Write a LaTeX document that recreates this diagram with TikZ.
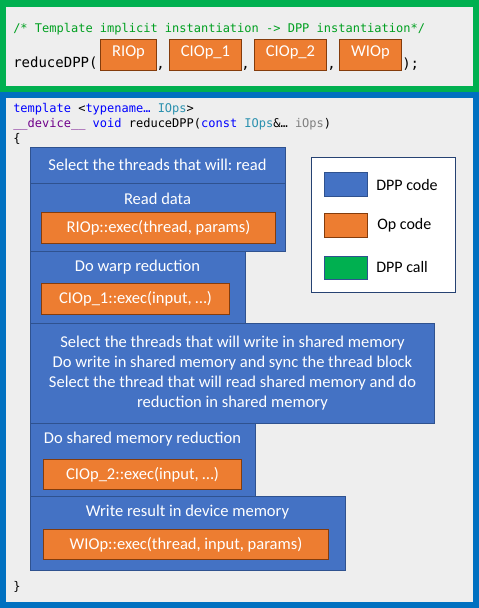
\documentclass[tikz,border=0pt]{standalone}
\usepackage{fontspec}
\setmainfont{Carlito}
\newfontfamily\codefont{DejaVu Sans Mono}
\frenchspacing
\definecolor{frgreen}{HTML}{00B050}
\definecolor{frblue}{HTML}{0070C0}
\definecolor{bggray}{HTML}{EEEEEE}
\definecolor{dppblue}{HTML}{4472C4}
\definecolor{dppedge}{HTML}{2F528F}
\definecolor{opfill}{HTML}{ED7D31}
\definecolor{opedge}{HTML}{843C0C}
\definecolor{cmtgreen}{HTML}{00A020}
\definecolor{kwblue}{HTML}{0000FF}
\definecolor{tyteal}{HTML}{2B91AF}
\definecolor{macpurple}{HTML}{6F008A}
\definecolor{pargray}{HTML}{808080}
\tikzset{
  code/.style={font=\codefont\fontsize{9}{11}\selectfont, inner sep=0pt, anchor=base west, text=black},
  bigcode/.style={font=\codefont\fontsize{10.5}{12}\selectfont, inner sep=0pt, anchor=base west, text=black},
  dppblk/.style={draw=dppedge, fill=dppblue, line width=0.75pt, anchor=north west, inner sep=0pt},
  opbox/.style={draw=opedge, fill=opfill, line width=0.75pt, anchor=north west, inner sep=0pt},
  wtxt/.style={text=white, font=\fontsize{12.4}{15}\selectfont\frenchspacing, inner sep=0pt},
  legtxt/.style={text=black, font=\fontsize{12}{13}\selectfont, inner sep=0pt, anchor=west},
}
\begin{document}
\begin{tikzpicture}[x=0.75pt,y=-0.75pt]
\useasboundingbox (0,0) rectangle (479,608);
% frames
\fill[frgreen] (0,0) rectangle (479,92);
\fill[bggray] (6,7) rectangle (473,86);
\fill[frblue] (0,92) rectangle (479,608);
\fill[bggray] (6,98) rectangle (473,602);
% top call
\node[code] (cmt) at (13,32) {\color{cmtgreen}/*~Template~implicit~instantiation~->~DPP~instantiation*/};
\node[bigcode] (call) at (13,67) {reduceDPP(};
\node[opbox, minimum width=56*0.75pt, minimum height=31*0.75pt] (c1) at (100,39) {};
\node[wtxt] at ([yshift=2.5*0.75pt]c1.center) {RIOp};
\node[bigcode] (cm1) at (156,68) {,};
\node[opbox, minimum width=72*0.75pt, minimum height=31*0.75pt] (c2) at (169,39) {};
\node[wtxt] at ([yshift=2.5*0.75pt]c2.center) {CIOp\_1};
\node[bigcode] (cm2) at (241,68) {,};
\node[opbox, minimum width=72*0.75pt, minimum height=31*0.75pt] (c3) at (254,39) {};
\node[wtxt] at ([yshift=2.5*0.75pt]c3.center) {CIOp\_2};
\node[bigcode] (cm3) at (327,68) {,};
\node[opbox, minimum width=62*0.75pt, minimum height=31*0.75pt] (c4) at (339,39) {};
\node[wtxt] at ([yshift=2.5*0.75pt]c4.center) {WIOp};
\node[bigcode] (cend) at (402,68) {);};
% template header
\node[code] (t1) at (13,112) {\color{kwblue}template \color{black}<\color{kwblue}typename… \color{tyteal}IOps\color{black}>};
\node[code] (t2) at (13,127) {\color{macpurple}\_\_device\_\_ \color{kwblue}void \color{black}reduceDPP(\color{kwblue}const \color{tyteal}IOps\color{black}\&… \color{pargray}iOps\color{black})};
\node[code] (t3) at (13,142) {\{};
\node[code] (t4) at (13,590) {\}};
% blocks
\node[dppblk, minimum width=255*0.75pt, minimum height=36*0.75pt] (b1) at (30,147) {};
\node[wtxt] at (157.5,165) {Select the threads that will: read};
\node[dppblk, minimum width=255*0.75pt, minimum height=68*0.75pt] (b2) at (30,183) {};
\node[wtxt] at (157.5,199) {Read data};
\node[opbox, minimum width=234*0.75pt, minimum height=31*0.75pt] (o2) at (41,212) {};
\node[wtxt] at (o2.center) {RIOp::exec(thread, params)};
\node[dppblk, minimum width=215*0.75pt, minimum height=72*0.75pt] (b3) at (30,251) {};
\node[wtxt] at (137.5,267) {Do warp reduction};
\node[opbox, minimum width=188*0.75pt, minimum height=31*0.75pt] (o3) at (41,283) {};
\node[wtxt] at (o3.center) {CIOp\_1::exec(input, …)};
\node[dppblk, minimum width=404*0.75pt, minimum height=100*0.75pt] (b4) at (30,323) {};
\node[wtxt, align=center] at (b4.center) {Select the threads that will write in shared memory\\Do write in shared memory and sync the thread block\\Select the thread that will read shared memory and do\\reduction in shared memory};
\node[dppblk, minimum width=225*0.75pt, minimum height=73*0.75pt] (b5) at (30,423) {};
\node[wtxt] at (142.5,439) {Do shared memory reduction};
\node[opbox, minimum width=198*0.75pt, minimum height=30*0.75pt] (o5) at (43,459) {};
\node[wtxt] at (o5.center) {CIOp\_2::exec(input, …)};
\node[dppblk, minimum width=315*0.75pt, minimum height=74*0.75pt] (b6) at (30,496) {};
\node[wtxt] at (187.5,512) {Write result in device memory};
\node[opbox, minimum width=285*0.75pt, minimum height=30*0.75pt] (o6) at (43,529) {};
\node[wtxt] at (o6.center) {WIOp::exec(thread, input, params)};
% legend
\node[draw=dppedge!80!black, fill=white, line width=0.75pt, anchor=north west, minimum width=144*0.75pt, minimum height=135*0.75pt, inner sep=0pt] (leg) at (311,157) {};
\node[dppblk, minimum width=43*0.75pt, minimum height=24*0.75pt] (s1) at (324,172) {};
\node[opbox, minimum width=43*0.75pt, minimum height=24*0.75pt] (s2) at (324,213) {};
\node[draw=dppedge, fill=frgreen, line width=0.75pt, anchor=north west, inner sep=0pt, minimum width=43*0.75pt, minimum height=23*0.75pt] (s3) at (324,256) {};
\node[legtxt] (l1) at (376,185) {DPP code};
\node[legtxt] (l2) at (377,225) {Op code};
\node[legtxt] (l3) at (376,267) {DPP call};
\end{tikzpicture}
\end{document}
